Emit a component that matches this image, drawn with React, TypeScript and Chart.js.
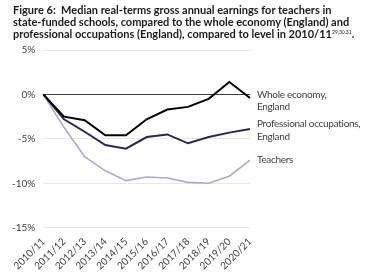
import React, { useEffect, useRef } from "react";
import { Chart, registerables } from "chart.js";

Chart.register(...registerables);

const categories = ["2010/11", "2011/12", "2012/13", "2013/14", "2014/15", "2015/16", "2016/17", "2017/18", "2018/19", "2019/20", "2020/21"];
const wholeEconomy = [0, -2.5, -2.9, -4.6, -4.6, -2.8, -1.7, -1.4, -0.5, 1.4, -0.4];
const professional = [0, -2.8, -4.2, -5.7, -6.1, -4.8, -4.5, -5.5, -4.8, -4.3, -3.9];
const teachers = [0, -3.7, -7.0, -8.6, -9.7, -9.3, -9.4, -9.9, -10.0, -9.2, -7.4];
const yTicks = [5, 0, -5, -10, -15];
const seriesNames = [["Whole economy,", "England"], ["Professional occupations,", "England"], ["Teachers"]];
const seriesColors = ["#000000", "#2b2650", "#b2a8cb"];
const labelOffsets = [-3.5, -5, 0];
const titleLines = [
  "Figure 6:\u00a0 Median real-terms gross annual earnings for teachers in",
  "state-funded schools, compared to the whole economy (England) and",
  "professional occupations (England), compared to level in 2010/11",
];
const titleSup = "29,30,31";

const FONT = "Lato, 'Open Sans', sans-serif";

const endLabels = {
  id: "endLabels",
  afterDatasetsDraw(chart: any) {
    const ctx = chart.ctx;
    ctx.save();
    ctx.font = `10px ${FONT}`;
    try {
      (ctx as any).letterSpacing = "-0.3px";
    } catch (e) {}
    ctx.fillStyle = "#3f3f3f";
    ctx.textBaseline = "middle";
    ctx.textAlign = "left";
    chart.data.datasets.forEach((ds: any, i: number) => {
      const meta = chart.getDatasetMeta(i);
      const pt = meta.data[meta.data.length - 1];
      const lines = seriesNames[i];
      lines.forEach((ln: string, j: number) => {
        ctx.fillText(ln, pt.x + 7, pt.y + labelOffsets[i] + j * 12.5);
      });
    });
    ctx.restore();
  },
};

export default function App() {
  const ref = useRef<HTMLCanvasElement | null>(null);
  useEffect(() => {
    document.body.style.margin = "0";
    const chart = new Chart(ref.current as HTMLCanvasElement, {
      type: "line",
      data: {
        labels: categories,
        datasets: [
          { data: wholeEconomy, borderColor: seriesColors[0], borderWidth: 2 },
          { data: professional, borderColor: seriesColors[1], borderWidth: 2 },
          { data: teachers, borderColor: seriesColors[2], borderWidth: 1.6 },
        ].map((d) => ({ ...d, pointRadius: 0, tension: 0, fill: false })),
      },
      options: {
        animation: false,
        responsive: false,
        layout: { padding: { top: 50, right: 138, left: 4, bottom: 4 } },
        plugins: { legend: { display: false }, tooltip: { enabled: false }, title: { display: false } },
        scales: {
          x: {
            offset: false,
            grid: { display: false },
            border: { display: false },
            ticks: {
              maxRotation: 45,
              minRotation: 45,
              autoSkip: false,
              color: "#404040",
              font: { family: FONT, size: 10 },
              padding: 0,
            },
          },
          y: {
            min: -15,
            max: 5,
            afterBuildTicks: (axis: any) => {
              axis.ticks = yTicks.map((v) => ({ value: v }));
            },
            border: { display: false },
            grid: {
              color: (c: any) => (c.tick && c.tick.value === 0 ? "#404040" : "#e8e8e8"),
              lineWidth: 1,
              drawTicks: false,
            },
            ticks: {
              callback: (v: any) => `${v}%`,
              color: "#404040",
              font: { family: FONT, size: 10 },
              padding: 8,
            },
          },
        },
      },
      plugins: [endLabels],
    });
    return () => chart.destroy();
  }, []);
  return (
    <div style={{ position: "relative", width: 388, height: 276, background: "#fff" }}>
      <div
        style={{
          position: "absolute",
          left: 13,
          top: 4,
          whiteSpace: "nowrap",
          fontFamily: FONT,
          fontWeight: 700,
          fontSize: 11,
          lineHeight: "12px",
          color: "#1a1a1a",
        }}
      >
        <div>{titleLines[0]}</div>
        <div>{titleLines[1]}</div>
        <div>
          {titleLines[2]}
          <sup style={{ fontSize: 5, fontWeight: 400, verticalAlign: "4px", lineHeight: 0 }}>{titleSup}</sup>.
        </div>
      </div>
      <canvas ref={ref} width={388} height={276} style={{ display: "block" }} />
    </div>
  );
}
